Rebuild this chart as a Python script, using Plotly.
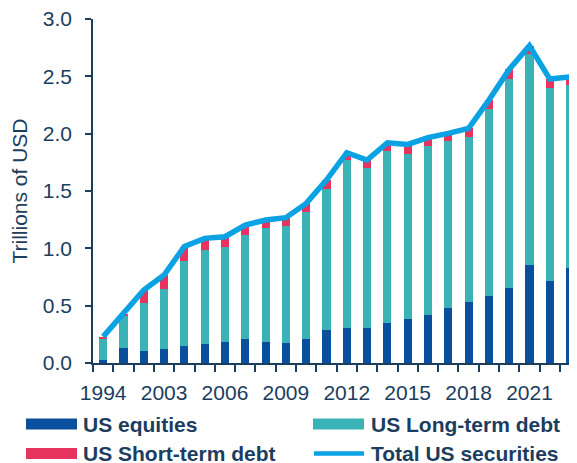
import plotly.graph_objects as go

years = ["1994", "2001", "2002", "2003", "2004", "2005", "2006", "2007", "2008",
         "2009", "2010", "2011", "2012", "2013", "2014", "2015", "2016", "2017",
         "2018", "2019", "2020", "2021", "2022", "2023"]
us_equities = [0.03, 0.135, 0.107, 0.125, 0.151, 0.168, 0.183, 0.209, 0.186,
               0.171, 0.209, 0.288, 0.302, 0.308, 0.352, 0.381, 0.418, 0.482,
               0.535, 0.587, 0.657, 0.854, 0.718, 0.831]
us_long_term = [0.185, 0.275, 0.416, 0.520, 0.741, 0.820, 0.831, 0.907, 0.994,
                1.026, 1.110, 1.226, 1.468, 1.389, 1.499, 1.444, 1.474, 1.453,
                1.438, 1.627, 1.819, 1.840, 1.680, 1.593]
us_short_term = [0.015, 0.020, 0.114, 0.122, 0.124, 0.099, 0.087, 0.087, 0.067,
                 0.070, 0.073, 0.081, 0.064, 0.073, 0.070, 0.081, 0.073, 0.067,
                 0.073, 0.079, 0.084, 0.073, 0.078, 0.072]
total_us = [0.23, 0.43, 0.637, 0.767, 1.016, 1.087, 1.101, 1.203, 1.247,
            1.267, 1.392, 1.595, 1.834, 1.770, 1.921, 1.906, 1.965, 2.002,
            2.046, 2.293, 2.560, 2.767, 2.476, 2.496]
y_ticks = [0.0, 0.5, 1.0, 1.5, 2.0, 2.5, 3.0]
label_every = 3

C_EQ = "#0A4F9E"
C_LT = "#3AB2B6"
C_ST = "#E6335F"
C_TOT = "#0AA2E2"
NAVY = "#1B3D5E"
FONT = "Liberation Sans, Arial, sans-serif"
FS = 21

idx = list(range(len(years)))

fig = go.Figure()
fig.add_trace(go.Bar(x=idx, y=us_equities, name="US equities", marker_color=C_EQ,
                     marker_line_width=0, width=0.4))
fig.add_trace(go.Bar(x=idx, y=us_long_term, name="US Long-term debt", marker_color=C_LT,
                     marker_line_width=0, width=0.4))
fig.add_trace(go.Bar(x=idx, y=us_short_term, name="US Short-term debt", marker_color=C_ST,
                     marker_line_width=0, width=0.4))
fig.add_trace(go.Scatter(x=idx, y=total_us, name="Total US securities", mode="lines",
                         line=dict(color=C_TOT, width=5.5)))

# the page body has an 8px margin: size the figure to the visible window
OFF = 8
W, H = 577 - OFF, 463 - OFF
ML, MR, MT, MB = 93 - OFF, 0, 19 - OFF, 100
pw = W - ML - MR
ph = H - MT - MB


def px(x):
    # screen pixel -> paper coordinate
    return (x - OFF - ML) / pw


def py(y):
    return (H - MB - (y - OFF)) / ph


# manual legend (screen pixel positions)
legend_items = [
    ("US equities", C_EQ, "bar", 26, 84, 424),
    ("US Long-term debt", C_LT, "bar", 313, 371.5, 424),
    ("US Short-term debt", C_ST, "bar", 26, 84, 453.5),
    ("Total US securities", C_TOT, "line", 313, 371.5, 453.5),
]
shapes = []
annotations = []
for text, col, kind, sx, tx, cy in legend_items:
    if kind == "bar":
        shapes.append(dict(type="rect", xref="paper", yref="paper",
                           x0=px(sx), x1=px(sx + 51), y0=py(cy - 5.5), y1=py(cy + 5.5),
                           fillcolor=col, line=dict(width=0)))
    else:
        shapes.append(dict(type="line", xref="paper", yref="paper",
                           x0=px(sx + 1), x1=px(sx + 51), y0=py(cy), y1=py(cy),
                           line=dict(color=col, width=4.5)))
    annotations.append(dict(text="<b>%s</b>" % text, xref="paper", yref="paper",
                            x=px(tx - 2), y=py(cy), xanchor="left", yanchor="middle",
                            borderpad=0,
                            showarrow=False, font=dict(size=FS, color=NAVY, family=FONT)))

fig.update_layout(
    width=W, height=H,
    margin=dict(l=ML, r=MR, t=MT, b=MB, pad=0, autoexpand=False),
    barmode="stack",
    showlegend=False,
    plot_bgcolor="white", paper_bgcolor="white",
    font=dict(family=FONT, size=FS, color=NAVY),
    shapes=shapes,
    annotations=annotations,
    xaxis=dict(
        range=[-0.5, 23.34],
        automargin=False,
        tickmode="array",
        tickvals=idx[::label_every],
        ticktext=years[::label_every],
        ticks="",
        ticklabelstandoff=10,
        ticklabeloverflow="allow",
        showline=True, linecolor=NAVY, linewidth=1.5,
        showgrid=False, zeroline=False,
        tickfont=dict(size=FS, color=NAVY),
        minor=dict(tickmode="array",
                   tickvals=[i - 0.5 for i in range(len(years) + 1)],
                   ticks="outside", ticklen=7, tickwidth=1.5, tickcolor=NAVY,
                   showgrid=False),
    ),
    yaxis=dict(
        range=[0, 3.0],
        automargin=False,
        tickmode="array",
        tickvals=y_ticks,
        tickformat=".1f",
        ticks="outside", ticklen=6, tickwidth=1.5, tickcolor=NAVY,
        ticklabelstandoff=9,
        ticklabeloverflow="allow",
        showline=True, linecolor=NAVY, linewidth=1.5,
        showgrid=False, zeroline=False,
        tickfont=dict(size=FS, color=NAVY),
        title=dict(text="Trillions of USD", font=dict(size=FS, color=NAVY), standoff=12),
    ),
)

fig.write_html("out.html")
